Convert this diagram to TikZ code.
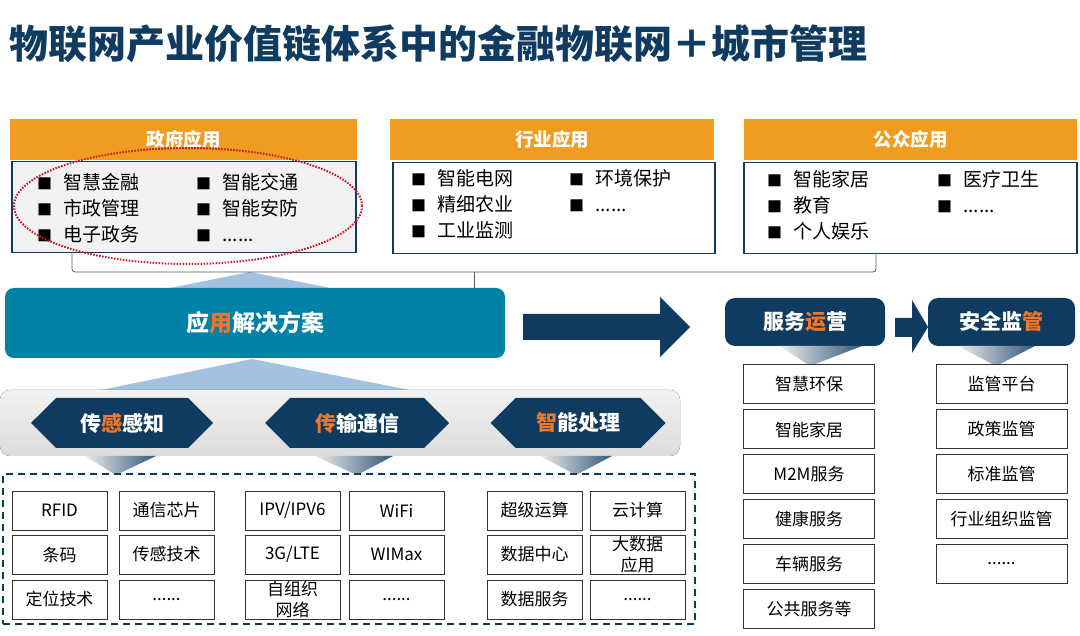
\documentclass[tikz,border=0pt]{standalone}
\usepackage{fontspec}
\setmainfont{Noto Sans CJK SC}
\usetikzlibrary{shapes.geometric, shapes.symbols}
\definecolor{navy}{RGB}{16,59,96}
\definecolor{headorange}{RGB}{240,156,32}
\definecolor{hl}{RGB}{240,118,40}
\definecolor{tealbox}{RGB}{0,130,166}
\definecolor{paleblue}{RGB}{163,193,224}
\definecolor{dotred}{RGB}{200,30,45}
\definecolor{lightgray}{RGB}{242,242,242}
\newcommand{\sqbul}{{\fontsize{15}{15}\selectfont ■}\hspace{11pt}}

\begin{document}
\begin{tikzpicture}[
  x=1pt, y=-1pt,
  headbox/.style={rectangle, fill=headorange, text=white, minimum height=41pt,
    inner sep=0pt, font=\bfseries\fontsize{18.5}{20}\selectfont},
  listbox/.style={rectangle, draw=navy, line width=1.8pt, fill=white, minimum height=91pt},
  itemcol/.style={anchor=north west, align=left, inner sep=0pt,
    font=\fontsize{19}{26}\selectfont},
  hexbox/.style={signal, signal to=west and east, fill=navy, text=white,
    minimum width=182pt, minimum height=50pt, inner sep=0pt,
    font=\bfseries\fontsize{21}{23}\selectfont},
  darkhead/.style={rectangle, rounded corners=10pt, fill=navy, text=white,
    minimum height=48pt, font=\bfseries\fontsize{21}{23}\selectfont},
  cell/.style={rectangle, draw=black!80, line width=1pt, fill=white,
    minimum width=95pt, minimum height=39pt, inner sep=0pt, align=center,
    font=\fontsize{17}{19}\selectfont},
  svcbox/.style={cell, minimum width=131pt},
  bracket/.style={draw=black!65, line width=0.8pt, rounded corners=3pt},
  gradtri/.style={left color=gray!15, right color=navy!85}
]
\useasboundingbox (0,0) rectangle (1080,636);

% Title
\node[anchor=west, text=navy, inner sep=0pt, font=\bfseries\fontsize{39}{42}\selectfont]
  (title) at (9,44) {物联网产业价值链体系中的金融物联网＋城市管理};

% Row 1 — 应用领域
\node[headbox, minimum width=347pt] (govhead) at (183.5,139.5) {政府应用};
\node[listbox, fill=lightgray, minimum width=344pt] (gov) at (184,207) {};
\node[headbox, minimum width=324pt] (indhead) at (552,139.5) {行业应用};
\node[listbox, minimum width=322pt] (ind) at (554,208) {};
\node[headbox, minimum width=333pt] (pubhead) at (910.5,139.5) {公众应用};
\node[listbox, minimum width=333pt] (pub) at (910.5,208) {};

\node[itemcol] (gov1) at (37,173) {\sqbul 智慧金融\\\sqbul 市政管理\\\sqbul 电子政务};
\node[itemcol] (gov2) at (196,173) {\sqbul 智能交通\\\sqbul 智能安防\\\sqbul ......};
\node[itemcol] (ind1) at (411,169) {\sqbul 智能电网\\\sqbul 精细农业\\\sqbul 工业监测};
\node[itemcol] (ind2) at (569,169) {\sqbul 环境保护\\\sqbul ......};
\node[itemcol] (pub1) at (767,170) {\sqbul 智能家居\\\sqbul 教育\\\sqbul 个人娱乐};
\node[itemcol] (pub2) at (937,170) {\sqbul 医疗卫生\\\sqbul ......};

% focus ring
\node[ellipse, draw=dotred, line width=2pt, dash pattern=on 1.6pt off 1.4pt,
  minimum width=348pt, minimum height=116pt] (focus) at (188,206) {};

% Row 2 — 解决方案
\fill[paleblue] (250,272) -- (330,288) -- (170,288) -- cycle;
\node[rectangle, rounded corners=9pt, fill=tealbox, text=white, minimum width=500pt,
  minimum height=70pt, font=\bfseries\fontsize{23}{25}\selectfont]
  (sol) at (255,323) {应{\color{hl}用}解决方案};

\coordinate (brL) at (72,272);
\coordinate (brR) at (876,272);
\coordinate (brM) at (474,272);
\draw[bracket] (brL |- gov.south) -- (brL) -- (brR) -- (brR |- pub.south);
\draw[bracket] (brM) -- (brM |- sol.north);

\fill[navy] (523,314) -- (660,314) -- (660,297) -- (690,327) -- (660,357)
  -- (660,340) -- (523,340) -- cycle;

% Row 3 — 感知 / 传输 / 处理
\fill[paleblue] (252,359) -- (415,391) -- (96,391) -- cycle;
\fill[top color=gray!10, bottom color=gray!28, rounded corners=10pt] (0,390) rectangle (680,456);
\node[hexbox] (sense) at (122,423) {传{\color{hl}感}感知\hspace{14pt}};
\node[hexbox, minimum width=184pt] (trans) at (357,423) {{\color{hl}传}输通信\hspace{12pt}};
\node[hexbox, minimum width=175pt] (proc) at (578,423) {{\color{hl}智}能处理\hspace{8pt}};
\shade[gradtri] (85,456) -- (156,456) -- (116,475) -- cycle;
\shade[gradtri] (315,456) -- (393,456) -- (357,475) -- cycle;
\shade[gradtri] (540,456) -- (612,456) -- (576,475) -- cycle;

\node[rectangle, draw=navy, line width=2pt, dash pattern=on 7pt off 5pt,
  minimum width=692pt, minimum height=150pt] (tech) at (349,549) {};

\node[cell] (rfid)  at (59.5,510.5)  {RFID};
\node[cell] (chip)  at (166.5,510.5) {通信芯片};
\node[cell] (bar)   at (59.5,554.5)  {条码};
\node[cell] (sens)  at (166.5,554.5) {传感技术};
\node[cell] (loc)   at (59.5,599.5)  {定位技术};
\node[cell] (etc1)  at (166.5,599.5) {......};

\node[cell] (ipv)   at (292.5,510.5) {IPV/IPV6};
\node[cell] (wifi)  at (396.5,510.5) {WiFi};
\node[cell] (lte)   at (292.5,554.5) {3G/LTE};
\node[cell] (wimax) at (396.5,554.5) {WIMax};
\node[cell, font=\fontsize{17}{21}\selectfont] (adhoc) at (292.5,599.5) {自组织\\网络};
\node[cell] (etc2)  at (396.5,599.5) {......};

\node[cell] (super) at (534.5,510.5) {超级运算};
\node[cell] (cloud) at (637.5,510.5) {云计算};
\node[cell] (dc)    at (534.5,554.5) {数据中心};
\node[cell, font=\fontsize{17}{21}\selectfont] (bigd) at (637.5,554.5) {大数据\\应用};
\node[cell] (dsvc)  at (534.5,599.5) {数据服务};
\node[cell] (etc3)  at (637.5,599.5) {......};

% Right — 服务运营 / 安全监管
\node[darkhead, minimum width=160pt] (ops) at (805,322) {服务{\color{hl}运}营};
\node[darkhead, minimum width=147pt] (sec) at (1001.5,322) {安全监{\color{hl}管}};
\fill[navy] (895,318) -- (912,318) -- (912,300) -- (928,327) -- (912,353)
  -- (912,337) -- (895,337) -- cycle;
\shade[gradtri] (780,346) -- (862,346) -- (810,366) -- cycle;
\shade[gradtri] (958,346) -- (1035,346) -- (996,366) -- cycle;

\node[svcbox] (s1) at (809,384.5) {智慧环保};
\node[svcbox] (s2) at (809,429.5) {智能家居};
\node[svcbox] (s3) at (809,474)   {M2M服务};
\node[svcbox] (s4) at (809,519)   {健康服务};
\node[svcbox] (s5) at (809,564)   {车辆服务};
\node[svcbox] (s6) at (809,609)   {公共服务等};

\node[svcbox] (m1) at (1001.5,384.5) {监管平台};
\node[svcbox] (m2) at (1001.5,429.5) {政策监管};
\node[svcbox] (m3) at (1001.5,474)   {标准监管};
\node[svcbox] (m4) at (1001.5,519)   {行业组织监管};
\node[svcbox] (m5) at (1001.5,564)   {......};

\end{tikzpicture}
\end{document}
